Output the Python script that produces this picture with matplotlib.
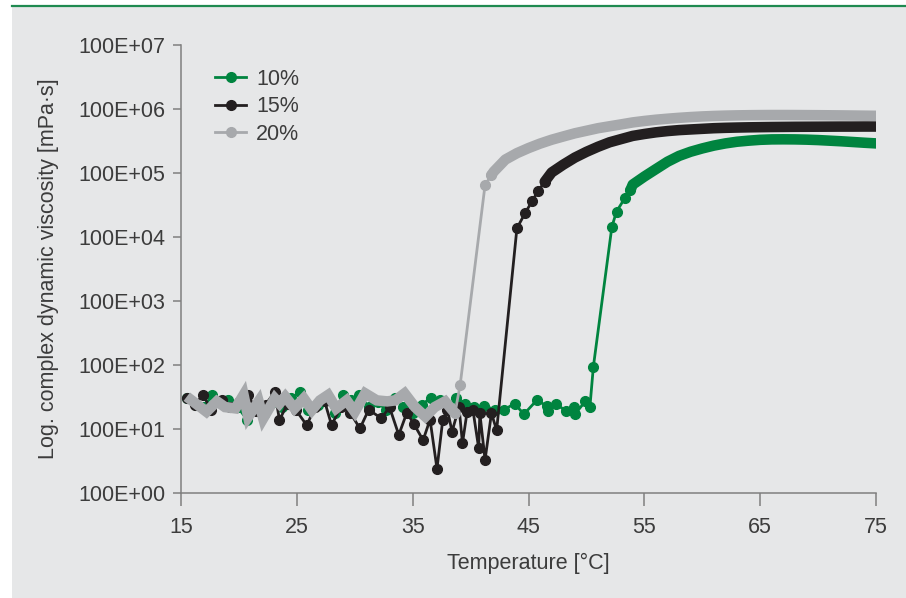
import matplotlib
matplotlib.use("Agg")
import matplotlib.pyplot as plt
from matplotlib.patches import Rectangle
from matplotlib.lines import Line2D
from matplotlib.ticker import FixedLocator, FixedFormatter, NullLocator

plt.rcParams['font.family'] = ['Liberation Sans', 'DejaVu Sans']

# ---------------- data ----------------
labels = ["10%", "15%", "20%"]
colors = ["#00843f", "#231f20", "#a7a9ac"]

# 10 % : measured points (noise + gel transition)
t10 = [15.5, 16.3, 17.0, 17.7, 18.4, 19.1, 19.9, 20.7, 21.5, 22.2, 23.0, 23.7, 24.5,
       25.3, 26.0, 26.8, 27.5, 28.3, 29.0, 29.7, 30.4, 31.2, 32.0, 32.7, 33.5, 34.2,
       35.0, 35.8, 36.6, 37.4, 38.1, 38.7, 39.5, 40.3, 41.2, 42.1, 42.9, 43.8, 44.6,
       45.7, 46.6, 46.7, 47.4, 48.2, 48.9, 49.0, 49.9, 50.3, 50.6, 52.2, 52.6, 53.3, 53.8]
v10 = [30, 24, 22, 34, 26, 28, 22, 14, 20, 17, 26, 22, 30,
       38, 20, 24, 30, 18, 34, 28, 34, 22, 26, 20, 30, 22,
       18, 24, 31, 28, 22, 30, 25, 22, 23, 20, 20, 25, 17,
       28, 23, 19, 25, 19, 22, 17, 27, 22, 94, 14500, 25000, 40000, 54000]
# 10 % : densely sampled gel plateau
t10p = [53.8, 54, 55, 56, 57, 58, 59, 60, 61, 62, 63, 64, 65, 66, 67, 68, 69, 70, 71, 72, 73, 74, 75]
v10p = [54000, 66000, 88000, 115000, 150000, 185000, 215000, 242000, 268000, 290000, 308000, 320000,
        330000, 335000, 336000, 335000, 332000, 327000, 320000, 313000, 305000, 297000, 290000]

# 15 %
t15 = [15.5, 16.2, 16.9, 17.6, 18.5, 19.2, 20.0, 20.8, 21.5, 22.3, 23.1, 23.5, 24.2,
       24.9, 25.85, 26.6, 27.4, 28.0, 28.8, 29.6, 30.45, 31.2, 32.3, 33.0, 33.8, 34.5,
       35.1, 35.9, 36.5, 37.1, 37.6, 38.0, 38.4, 39.0, 39.3, 39.7, 40.2, 40.7, 40.8,
       41.25, 41.8, 42.25, 44.0, 44.7, 45.3, 45.85, 46.4]
v15 = [30, 24, 34, 20, 28, 22, 26, 34, 19, 24, 38, 13.8, 25,
       20, 11.5, 22, 27, 11.5, 22, 18, 10.2, 20, 14.7, 22, 8.1, 18,
       12, 6.7, 14, 2.4, 14, 20, 9.1, 22, 6, 18.6, 20, 5.0, 17.6,
       3.3, 17.6, 9.6, 13700, 23500, 36000, 53000, 73000]
t15p = [46.4, 47, 48, 49, 50, 51, 52, 53, 54, 55, 56, 57, 58, 59, 60, 61, 62, 63, 64, 65,
        66, 67, 68, 69, 70, 71, 72, 73, 74, 75]
v15p = [73000, 102000, 135000, 174000, 214000, 257000, 302000, 339000, 380000, 407000, 432000,
        452000, 468000, 479000, 490000, 501000, 508000, 513000, 517000, 520000, 523000, 525000,
        527000, 528000, 529000, 530000, 531000, 531000, 532000, 532000]

# 20 %
t20 = [15.5, 17.2, 18.1, 18.8, 19.7, 20.4, 20.8, 21.7, 22.1, 23.1, 23.5, 24.0, 24.8,
       25.6, 26.3, 27.0, 27.7, 28.4, 29.3, 30.0, 30.9, 31.9, 32.8, 33.5, 34.3, 35.2,
       36.1, 36.9, 37.8, 38.65]
v20 = [32, 18.6, 27, 22, 21, 34, 15.5, 27, 14.7, 30, 25, 32, 21,
       30, 19.8, 28, 34, 21, 28, 18.6, 36, 28, 27, 28, 36, 22,
       15.6, 22, 27, 17.6]
t20s = [38.65, 39.1, 41.25, 41.8]
v20s = [17.6, 49, 65000, 93000]
t20p = [41.8, 42, 43, 44, 45, 46, 47, 48, 49, 50, 51, 52, 53, 54, 55, 56, 57, 58, 59, 60,
        61, 62, 63, 64, 65, 66, 67, 68, 69, 70, 71, 72, 73, 74, 75]
v20p = [93000, 105000, 162000, 204000, 245000, 288000, 331000, 372000, 417000, 457000, 501000,
        537000, 575000, 617000, 650000, 680000, 705000, 728000, 748000, 765000, 778000, 788000,
        795000, 800000, 803000, 805000, 805000, 804000, 802000, 800000, 797000, 794000, 790000,
        786000, 782000]

xticks = [15, 25, 35, 45, 55, 65, 75]
ytick_vals = [1e0, 1e1, 1e2, 1e3, 1e4, 1e5, 1e6, 1e7]
ytick_labels = ["100E+00", "100E+01", "100E+02", "100E+03", "100E+04", "100E+05", "100E+06", "100E+07"]

# ---------------- figure ----------------
W, H = 906, 598
fig = plt.figure(figsize=(W / 100, H / 100), dpi=100)
fig.patch.set_facecolor("white")
bg = Rectangle((12 / W, 0), 1 - 12 / W, 1 - 7 / H, transform=fig.transFigure,
               facecolor="#e6e7e8", edgecolor="none", zorder=-10)
fig.patches.append(bg)
fig.lines.append(Line2D([12 / W, 1], [1 - 5.5 / H, 1 - 5.5 / H], transform=fig.transFigure,
                        color="#1f8a50", lw=1.6, zorder=-9))

ax = fig.add_axes([181 / W, 1 - 493 / H, 695 / W, 448 / H])
ax.set_zorder(1)
ax.set_facecolor("none")

TXT = "#3c3c3c"
FS = 15.5
ms = 7.0
lw_thin = 2.0
lw_band = 7.6

# 10 %
c = colors[0]
ax.plot(t10, v10, color=c, lw=lw_thin, marker="o", ms=ms, zorder=3)
ax.plot(t10p, v10p, color=c, lw=lw_band, solid_capstyle="round", solid_joinstyle="round", zorder=3)
# 15 %
c = colors[1]
ax.plot(t15, v15, color=c, lw=lw_thin, marker="o", ms=ms, zorder=4)
ax.plot(t15p, v15p, color=c, lw=lw_band, solid_capstyle="round", solid_joinstyle="round", zorder=4)
# 20 %
c = colors[2]
ax.plot(t20, v20, color=c, lw=lw_band, solid_capstyle="butt", solid_joinstyle="miter", zorder=5)
ax.plot(t20s, v20s, color=c, lw=lw_thin, marker="o", ms=ms, zorder=5)
ax.plot(t20p, v20p, color=c, lw=lw_band, solid_capstyle="round", solid_joinstyle="round", zorder=5)

ax.set_yscale("log")
ax.set_ylim(1, 1e7)
ax.set_xlim(15, 75)
ax.yaxis.set_major_locator(FixedLocator(ytick_vals))
ax.yaxis.set_major_formatter(FixedFormatter(ytick_labels))
ax.yaxis.set_minor_locator(NullLocator())
ax.set_xticks(xticks)
ax.set_xticklabels([str(v) for v in xticks])

for s in ["top", "right"]:
    ax.spines[s].set_visible(False)
for s in ["left", "bottom"]:
    ax.spines[s].set_color("#7f7f7f")
    ax.spines[s].set_linewidth(1.1)
ax.tick_params(axis="y", direction="out", length=6, width=1.1, color="#7f7f7f",
               labelsize=FS, labelcolor=TXT, pad=5)
ax.tick_params(axis="x", direction="out", length=9, width=1.1, color="#7f7f7f",
               labelsize=FS, labelcolor=TXT, pad=8)

ax.set_xlabel("Temperature [°C]", fontsize=FS, color=TXT, labelpad=11)
ax.set_ylabel("Log. complex dynamic viscosity [mPa·s]", fontsize=FS, color=TXT, labelpad=14)

handles = [Line2D([], [], color=colors[i], lw=lw_thin, marker="o", ms=ms) for i in range(3)]
leg = ax.legend(handles, labels, loc="upper left", bbox_to_anchor=(215 / W, 1 - 69 / H),
                bbox_transform=fig.transFigure, frameon=False, fontsize=FS,
                handlelength=1.45, handletextpad=0.45, labelspacing=0.3, borderpad=0,
                borderaxespad=0)
for t in leg.get_texts():
    t.set_color(TXT)

fig.savefig("out.png", dpi=100, facecolor=fig.get_facecolor())
